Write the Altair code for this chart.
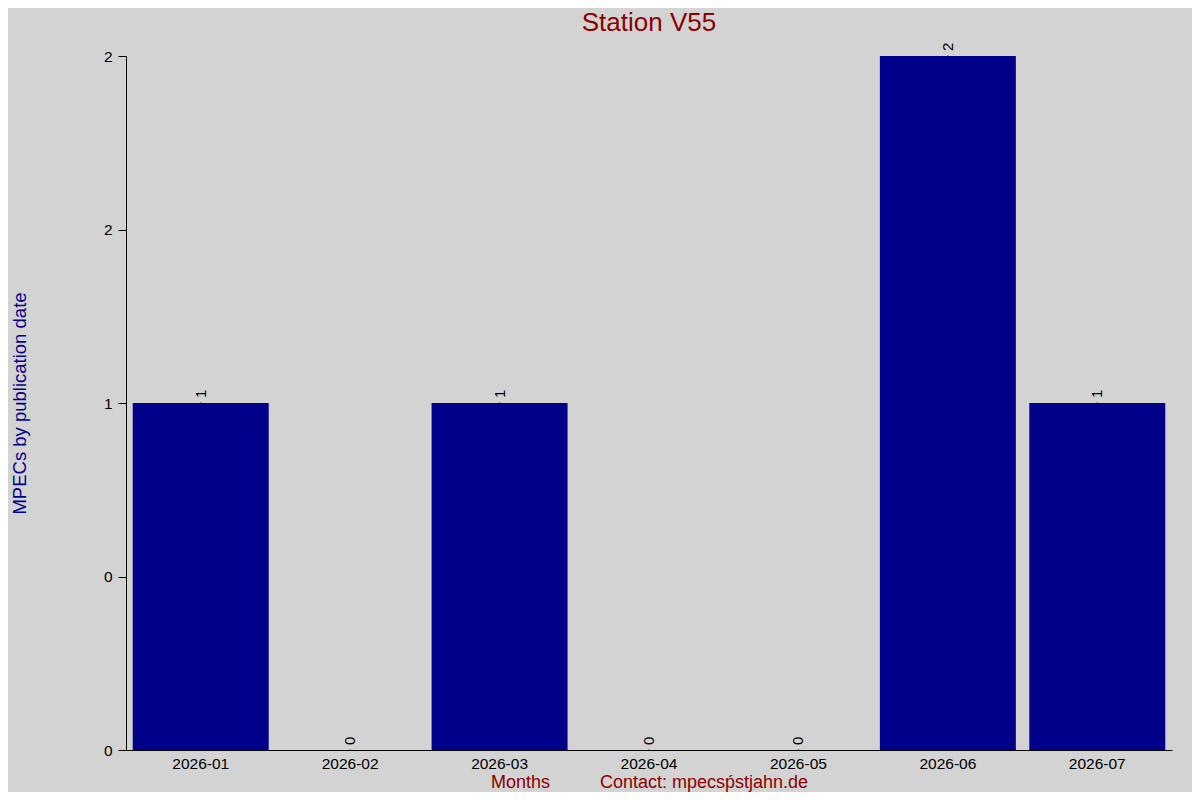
import altair as alt
import pandas as pd

# MPEC counts per month for station V55
months = ["2026-01", "2026-02", "2026-03", "2026-04", "2026-05", "2026-06", "2026-07"]
counts = [1, 0, 1, 0, 0, 2, 1]

# y axis ticks and the (rounded) labels printed next to them
ytick_vals = [0, 0.5, 1, 1.5, 2]
ytick_labels = ["0", "0", "1", "2", "2"]

source = pd.DataFrame({"month": months, "count": counts})

BG = "#d3d3d3"
BAR = "#00008b"
RED = "#8b0000"
FONT = "Liberation Sans"

# build a label expression from the tick lists
label_expr = "".join(
    f"datum.value == {v} ? '{l}' : " for v, l in zip(ytick_vals, ytick_labels)
) + "''"

x_enc = alt.X(
    "month:N",
    sort=months,
    scale=alt.Scale(paddingInner=0.09, paddingOuter=0.045),
    axis=alt.Axis(
        title="Months" + "\u00a0" * 10 + "Contact: mpecs\u1e55stjahn.de",
        titleColor=RED,
        titleFont=FONT,
        titleFontSize=18,
        titleFontWeight="normal",
        titleX=523,
        titleY=32,
        titleBaseline="middle",
        titleAlign="center",
        labelAngle=0,
        labelFont=FONT,
        labelFontSize=15.5,
        labelColor="black",
        labelPadding=6,
        ticks=False,
        domainColor="black",
        grid=False,
    ),
)

y_enc = alt.Y(
    "count:Q",
    scale=alt.Scale(domain=[0, 2], nice=False),
    axis=alt.Axis(
        values=ytick_vals,
        labelExpr=label_expr,
        title="MPECs by publication date",
        titleColor=BAR,
        titleFont=FONT,
        titleFontSize=18.5,
        titleFontWeight="normal",
        titleX=-107,
        titleY=347,
        titleAngle=270,
        titleBaseline="middle",
        titleAlign="center",
        labelFont=FONT,
        labelFontSize=15.5,
        labelColor="black",
        labelPadding=6,
        tickSize=8,
        tickColor="black",
        domainColor="black",
        grid=False,
    ),
)

bars = alt.Chart(source).mark_bar(color=BAR).encode(x=x_enc, y=y_enc)

labels = alt.Chart(source).mark_text(
    angle=270, align="left", baseline="middle", dx=5,
    font=FONT, fontSize=15, color="black",
).encode(
    x=alt.X("month:N", sort=months),
    y=alt.Y("count:Q"),
    text="count:Q",
)

# tiny tick marks along the top edge
top_ticks = alt.Chart(source).mark_tick(
    orient="vertical", color="black", size=1, thickness=1
).encode(
    x=alt.X("month:N", sort=months),
    y=alt.Y("max(count):Q"),
)

chart = alt.layer(bars, labels, top_ticks).properties(
    width=1046,
    height=694,
    background=BG,
    padding={"left": 118, "top": 48, "right": 20, "bottom": 42},
    autosize=alt.AutoSizeParams(type="none"),
    title=alt.Title(
        "Station V55", color=RED, font=FONT, fontSize=26,
        fontWeight="normal", anchor="middle", offset=7,
    ),
).configure_view(stroke=None)

chart.save("out.html", embed_options={"renderer": "svg", "actions": False})
